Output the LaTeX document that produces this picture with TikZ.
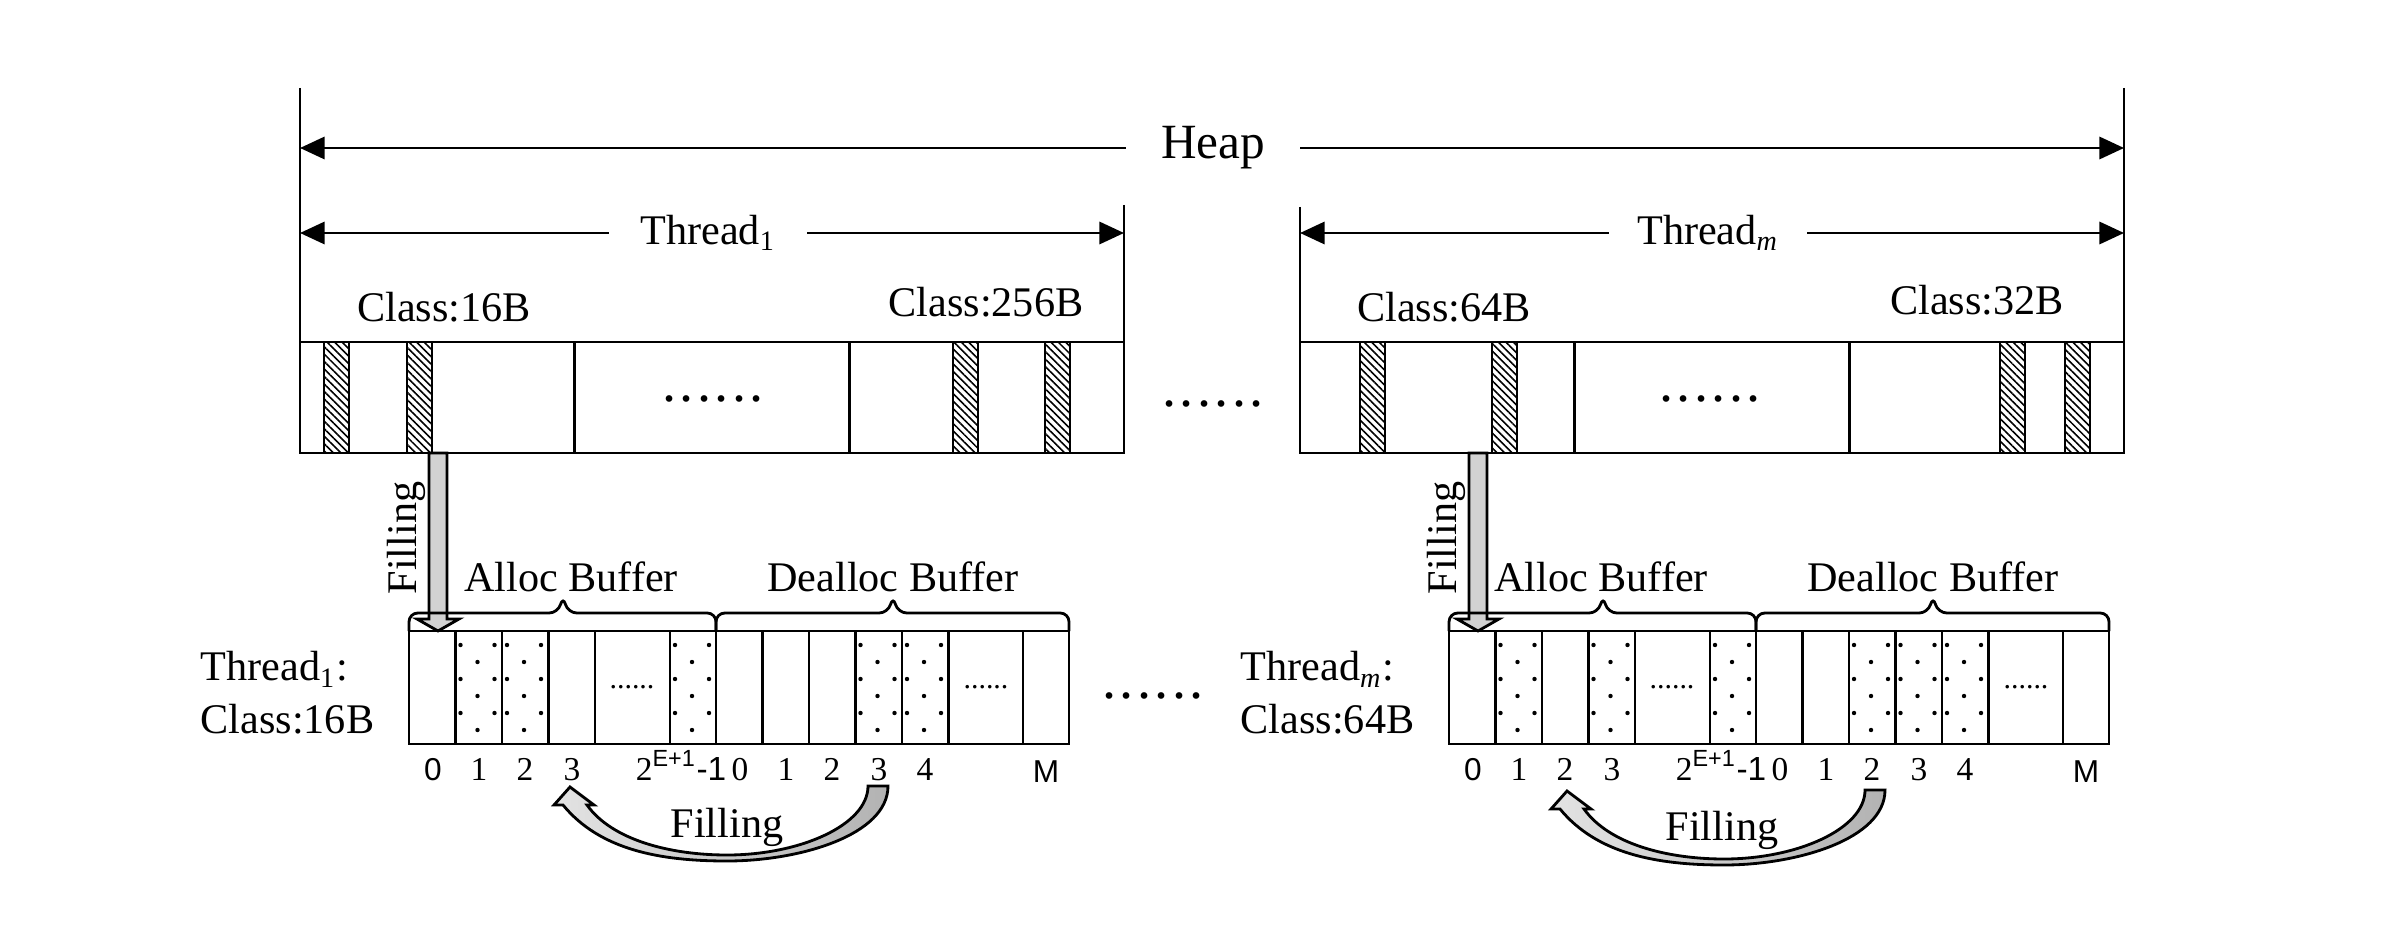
\documentclass[tikz,border=0pt]{standalone}
\usepackage{fontspec}
\setmainfont{Liberation Serif}
\setsansfont{Liberation Sans}
\usepackage{tikz}
\usetikzlibrary{arrows.meta, patterns.meta}

\newcommand{\sixdots}{.\kern1pt.\kern1pt.\kern1pt.\kern1pt.\kern1pt.}

\begin{document}
\begin{tikzpicture}[
  x=0.01cm, y=-0.01cm,
  every node/.style={font=\fontsize{12}{15}\selectfont, inner sep=0pt},
  line/.style={line width=0.8pt},
  dimarrow/.style={-{Triangle[length=7pt, width=6.3pt]}, line width=0.8pt},
  hatch/.style={draw, line width=0.5pt,
                pattern={Lines[angle=-45, distance=1.5pt, line width=0.45pt]}},
  bracket/.style={line width=0.8pt, rounded corners=2.5pt},
  idx/.style={font=\fontsize{9.5}{11}\selectfont, anchor=base},
  smalldots/.style={font=\fontsize{8.5}{10}\selectfont},
  bigdots/.style={font=\fontsize{16}{18}\selectfont},
  blockarrow/.style={draw, line width=0.8pt, fill=gray!35},
  arcarrow/.style={draw, line width=0.8pt, left color=gray!22, right color=gray!60},
  dropfill/.pic={
    \draw[blockarrow] (-9,0) -- (-9,166) -- (-21,166) -- (0,178)
      -- (21,166) -- (9,166) -- (9,0) -- cycle;
  },
  arcfill/.pic={
    \draw[arcarrow] (0,0) -- (-16,18) -- (-7,18)
      .. controls (30,63) and (90,74) .. (157,74)
      .. controls (230,74) and (318,48) .. (318,-1) -- (298,-1)
      .. controls (298,38) and (230,68) .. (157,68)
      .. controls (100,68) and (42,53) .. (17,18) -- (24,18) -- cycle;
  },
]
\useasboundingbox (0,0) rectangle (2398,940);

% Heap extent
\draw[line] (300,88) -- (300,453);
\draw[line] (2124,88) -- (2124,453);
\node[font=\fontsize{14}{16}\selectfont, minimum width=1.73cm] (heap) at (1213,148) {Heap};
\coordinate (heapL) at (300,148);
\coordinate (heapR) at (2124,148);
\draw[dimarrow] (heap) -- (heapL);
\draw[dimarrow] (heap) -- (heapR);

% Thread ranges
\draw[line] (1124,205) -- (1124,453);
\draw[line] (1300,207) -- (1300,453);
\node[minimum width=1.97cm] (thr1) at (708,233) {Thread\textsubscript{1}};
\coordinate (thr1L) at (300,233);
\coordinate (thr1R) at (1124,233);
\draw[dimarrow] (thr1) -- (thr1L);
\draw[dimarrow] (thr1) -- (thr1R);
\node[minimum width=1.97cm] (thrm) at (1708,233) {Thread\textsubscript{\textit{m}}};
\coordinate (thrmL) at (1300,233);
\coordinate (thrmR) at (2124,233);
\draw[dimarrow] (thrm) -- (thrmL);
\draw[dimarrow] (thrm) -- (thrmR);

% Size classes in the heap
\draw[line] (300,342) rectangle (1124,453);
\draw[line] (574.7,342) -- (574.7,453) (849.3,342) -- (849.3,453);
\draw[line] (1300,342) rectangle (2124,453);
\draw[line] (1574.7,342) -- (1574.7,453) (1849.3,342) -- (1849.3,453);
\foreach \x in {324,407,953,1045,1360,1492,2000,2065}
  \draw[hatch] (\x,342) rectangle ++(25,111);

\node (cls16) at (444,307) {Class:16B};
\node (cls256) at (986,302) {Class:256B};
\node (cls64) at (1444,307) {Class:64B};
\node (cls32) at (1977,300) {Class:32B};

\node[bigdots] (dots1) at (713,399) {\sixdots};
\node[bigdots] (dotsm) at (1710,399) {\sixdots};
\node[bigdots] (dotsmid) at (1213,404) {\sixdots};

% Filling from heap to buffers
\coordinate (src1) at (438,453);
\pic at (src1) {dropfill};
\node[rotate=90] (fillv1) at (406,538) {Filling};
\coordinate (srcm) at (1478,453);
\pic at (srcm) {dropfill};
\node[rotate=90] (fillvm) at (1446,538) {Filling};

% Alloc / dealloc buffers
\foreach \dx in {0,1040} {
  \draw[line] ({409+\dx},631) rectangle ({1069+\dx},744);
  \foreach \x in {455.5,502,548.5,595,670,716,762.5,809,855.5,902,948.5,1023}
    \draw[line] ({\x+\dx},631) -- ({\x+\dx},744);
  \draw[bracket] ({409+\dx},631) -- ({409+\dx},613) -- ({558+\dx},613) -- ({563+\dx},596)
    -- ({568+\dx},613) -- ({716+\dx},613) -- ({716+\dx},631);
  \draw[bracket] ({716+\dx},631) -- ({716+\dx},613) -- ({888+\dx},613) -- ({893+\dx},596)
    -- ({898+\dx},613) -- ({1069+\dx},613) -- ({1069+\dx},631);
  \node[smalldots] (gapa\dx) at ({632+\dx},687) {......};
  \node[smalldots] (gapd\dx) at ({986+\dx},687) {......};
  \foreach \x/\t in {479/1, 525/2, 572/3, 740/0, 786/1, 832/2, 879/3, 925/4}
    \node[idx] (idx\dx-\x) at ({\x+\dx},780) {\t};
  \node[idx, font=\fontsize{9}{11}\sffamily] (idx\dx-0) at ({433+\dx},780) {0};
  \node[idx, anchor=base east] (idx\dx-E) at ({727+\dx},780)
    {2\textsuperscript{\sffamily E+1}{\sffamily -1}};
  \node[idx, font=\fontsize{9}{11}\sffamily] (idx\dx-M) at ({1046+\dx},782) {M};
}

% used slots
\foreach \xl in {455.5,502,670,855.5,902,1495.5,1588.5,1710,1849,1895.5,1942}
  \foreach \r in {0,1,2} {
    \fill ({\xl+5},{645+34*\r}) circle[radius=2.2];
    \fill ({\xl+39},{645+34*\r}) circle[radius=2.2];
    \fill ({\xl+22},{662+34*\r}) circle[radius=2.2];
  }

\node (alloc1) at (571,577) {Alloc Buffer};
\node (dealloc1) at (893,577) {Dealloc Buffer};
\node (allocm) at (1601,577) {Alloc Buffer};
\node (deallocm) at (1933,577) {Dealloc Buffer};

\node[align=left, anchor=west] (buf1) at (200,693) {Thread\textsubscript{1}:\\Class:16B};
\node[align=left, anchor=west] (bufm) at (1240,693) {Thread\textsubscript{\textit{m}}:\\Class:64B};
\node[bigdots] (dotsbuf) at (1153,696) {\sixdots};

% Filling from dealloc back to alloc
\coordinate (arc1) at (570,787);
\pic at (arc1) {arcfill};
\node (fillc1) at (727,827) {Filling};
\coordinate (arcm) at (1567,791);
\pic at (arcm) {arcfill};
\node (fillcm) at (1722,830) {Filling};
\end{tikzpicture}
\end{document}
